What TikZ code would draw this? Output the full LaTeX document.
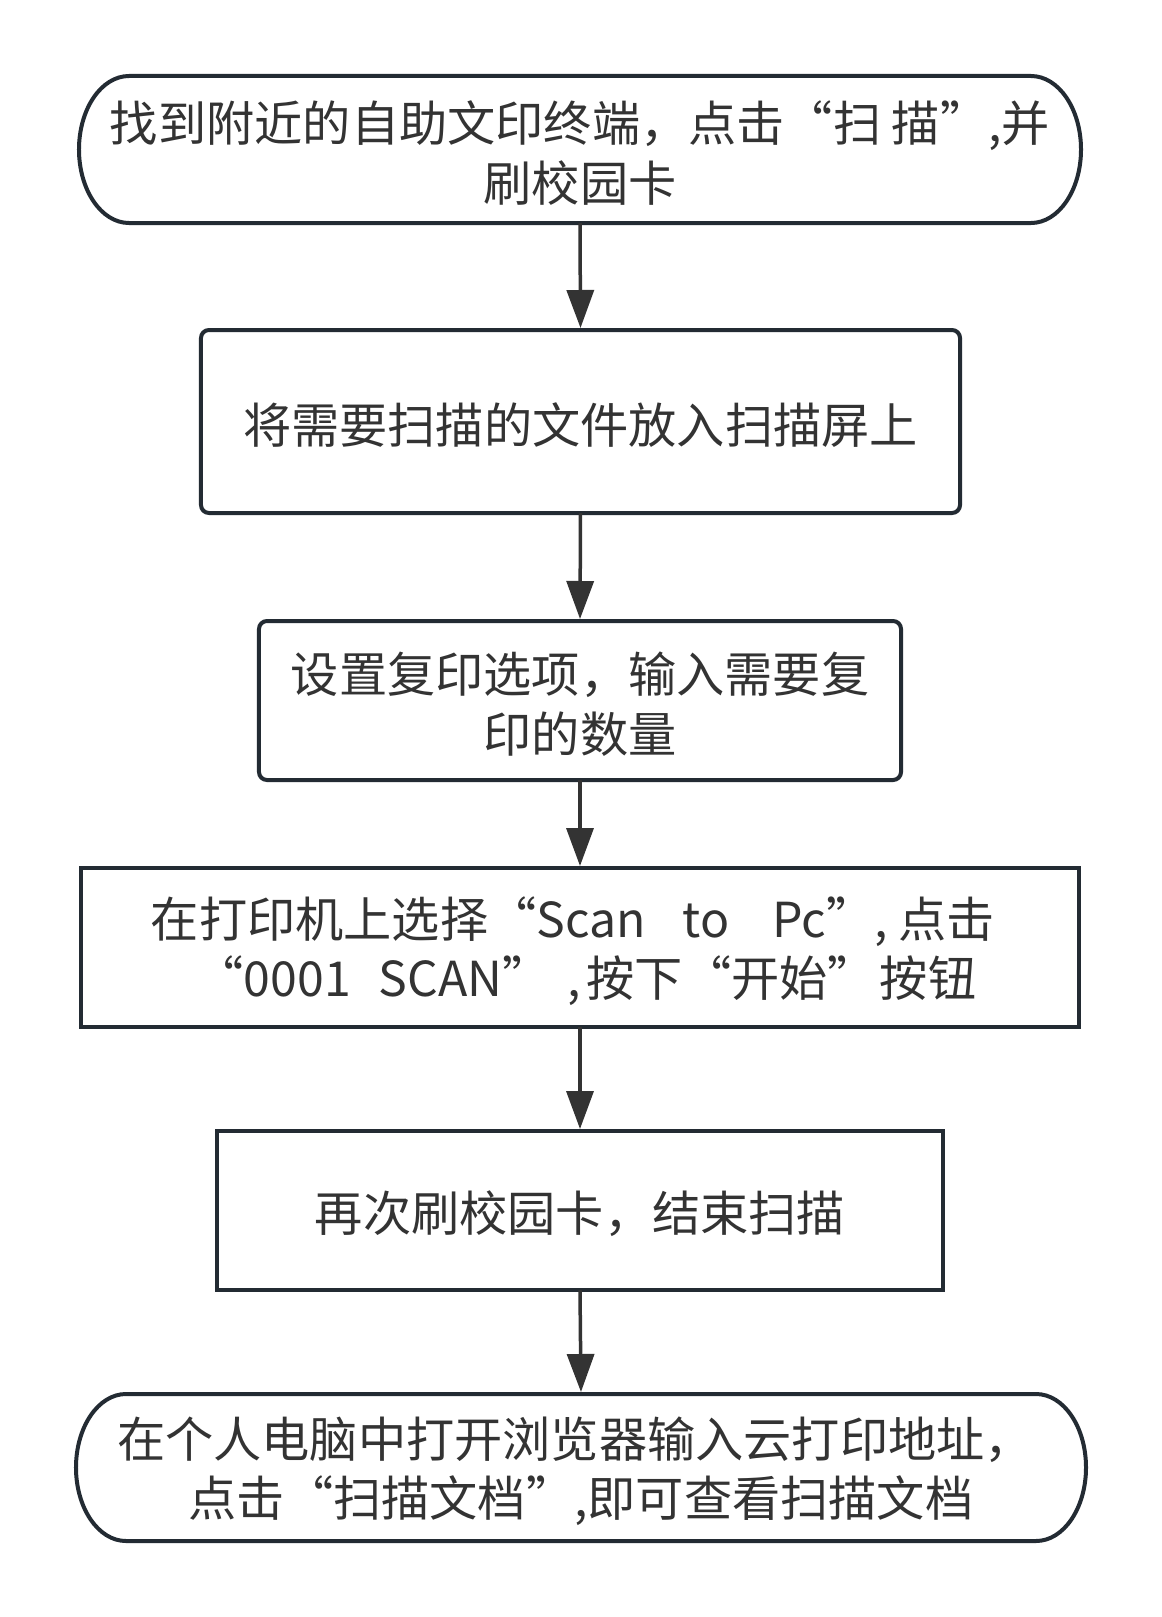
\documentclass[tikz,border=0pt]{standalone}
\usepackage{fontspec}
\setmainfont{Noto Sans CJK SC}
\usetikzlibrary{arrows.meta}
\definecolor{bord}{HTML}{232B33}
\definecolor{txt}{HTML}{333333}
\newcommand{\topstrut}{\rule{0pt}{48bp}}
\begin{document}
\begin{tikzpicture}[x=1bp,y=-1bp,
  every node/.style={font=\fontsize{48.2bp}{59.5bp}\selectfont, text=txt, align=center, inner sep=0pt, outer sep=0pt},
  boxr/.style={draw=bord, line width=4bp, rounded corners=8bp},
  boxs/.style={draw=bord, line width=4bp},
  term/.style={draw=none},
  conn/.style={draw=txt, line width=3.5bp, shorten >=2bp, -{Triangle[width=27bp,length=38bp]}}]
\useasboundingbox (0,0) rectangle (1161,1617);
\fill[white] (0,0) rectangle (1161,1617);
% terminal 1
\node[term, minimum width=1002bp, minimum height=147bp] (n1) at (580,149.5) {\topstrut 找到附近的自助文印终端，点击“扫 描”,并\\刷校园卡};
\draw[boxs] ([xshift=50bp]n1.north west) -- ([xshift=-50bp]n1.north east)
  arc[start angle=90, end angle=-90, x radius=50bp, y radius=73.5bp]
  -- ([xshift=50bp]n1.south west)
  arc[start angle=270, end angle=90, x radius=50bp, y radius=73.5bp] -- cycle;
\node[boxr, minimum width=759bp, minimum height=183bp] (n2) at (580.5,421.5) {\topstrut 将需要扫描的文件放入扫描屏上};
\node[boxr, minimum width=642bp, minimum height=159bp] (n3) at (580,700.5) {\topstrut 设置复印选项，输入需要复\\印的数量};
\node[boxs, minimum width=998bp, minimum height=159bp] (n4) at (580,947.5) {\topstrut 在打印机上选择“Scan\hspace{37bp}to\hspace{43bp}Pc”, 点击\hspace*{14bp}\\\hspace*{12bp}“0001\hspace{28bp}SCAN”\hspace{6bp} ,\hspace{6bp}按下“开始”\hspace{4bp}按钮};
\node[boxs, minimum width=726bp, minimum height=159bp] (n5) at (580,1210.5) {\topstrut 再次刷校园卡，结束扫描};
\node[term, minimum width=1010bp, minimum height=147bp] (n6) at (581,1467.5) {\topstrut 在个人电脑中打开浏览器输入云打印地址，\hspace*{12bp}\\点击“扫描文档”,即可查看扫描文档};
\draw[boxs] ([xshift=50bp]n6.north west) -- ([xshift=-50bp]n6.north east)
  arc[start angle=90, end angle=-90, x radius=50bp, y radius=73.5bp]
  -- ([xshift=50bp]n6.south west)
  arc[start angle=270, end angle=90, x radius=50bp, y radius=73.5bp] -- cycle;
\draw[conn] (n1.south) -- (n2.north);
\draw[conn] (n2.south) -- (n3.north);
\draw[conn] (n3.south) -- (n4.north);
\draw[conn] (n4.south) -- (n5.north);
\draw[conn] (n5.south) -- (n6.north);
\end{tikzpicture}
\end{document}
